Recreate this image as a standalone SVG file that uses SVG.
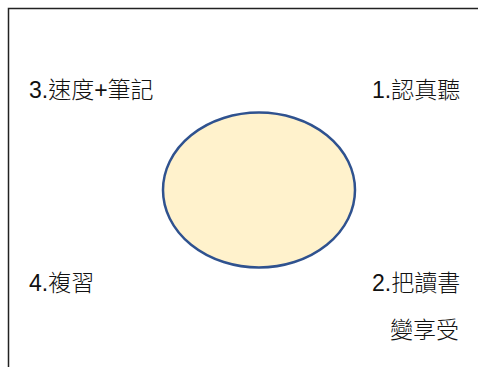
<svg xmlns="http://www.w3.org/2000/svg" width="478" height="367" viewBox="0 0 478 367">
<style>
.t{font-family:"Liberation Sans","Noto Sans CJK TC",sans-serif;font-size:23px;font-weight:300;fill:#111}
.frame{fill:none;stroke:#222;stroke-width:1.5}
</style>
<rect x="0" y="0" width="478" height="367" fill="#ffffff"/>
<path class="frame" d="M8.5,367 V8.5 H478"/>
<g id="center">
<ellipse cx="259" cy="190" rx="96" ry="77.5" fill="#FFF2CC" stroke="#2F528F" stroke-width="2.5"/>
</g>
<g id="connectors"></g>
<g id="n3"><text class="t" x="29" y="98">3.速度+筆記</text></g>
<g id="n1"><text class="t" x="372" y="98">1.認真聽</text></g>
<g id="n4"><text class="t" x="29" y="291">4.複習</text></g>
<g id="n2"><text class="t" x="372" y="291">2.把讀書</text></g>
<g id="n5"><text class="t" x="390" y="338">變享受</text></g>
</svg>
